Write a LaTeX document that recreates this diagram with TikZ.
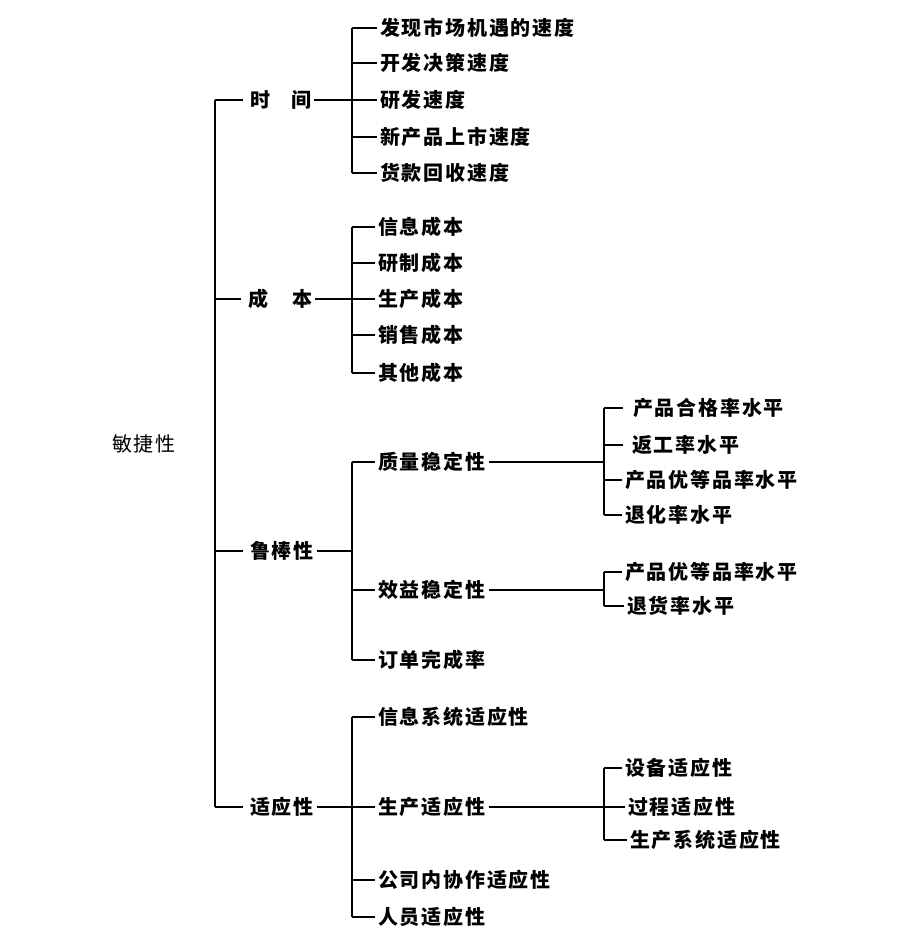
\documentclass[tikz,border=0pt]{standalone}
\usepackage{fontspec}
\newfontfamily\cjk[LetterSpace=9]{Noto Sans CJK SC}
\begin{document}
\begin{tikzpicture}[x=1pt,y=-1pt]
\tikzset{
  lf/.style={anchor=west,inner xsep=3pt,inner ysep=0pt,font=\cjk\bfseries\fontsize{20pt}{23pt}\selectfont},
  rt/.style={anchor=west,inner xsep=3pt,inner ysep=0pt,font=\cjk\fontsize{20pt}{23pt}\selectfont},
  ln/.style={line width=2.3pt}
}
\useasboundingbox (0,0) rectangle (917,952);
\fill[white] (0,0) rectangle (917,952);

% root
\node[rt] (r) at (109,444) {敏捷性};

% level 1
\node[lf] (t1) at (247,100) {时\hspace{21pt}间};
\node[lf] (t2) at (245,299) {成\hspace{24pt}本};
\node[lf] (t3) at (247,551) {鲁棒性};
\node[lf] (t4) at (247,807) {适应性};

\coordinate (tr) at (215,0);
\coordinate (ba) at (352,0);
\coordinate (bb) at (604,0);

\draw[ln] (tr |- t1.west) -- (tr |- t4.west);
\foreach \n in {t1,t2,t3,t4} \draw[ln] (tr |- \n.west) -- ([xshift=-4pt]\n.west);

% time
\node[lf] (a1) at (377,28) {发现市场机遇的速度};
\node[lf] (a2) at (377,63) {开发决策速度};
\node[lf] (a3) at (377,100) {研发速度};
\node[lf] (a4) at (377,137) {新产品上市速度};
\node[lf] (a5) at (377,173) {货款回收速度};
\draw[ln] (t1.east) -- (ba |- t1.east);
\draw[ln] (ba |- a1.west) -- (ba |- a5.west);
\foreach \n in {a1,a2,a3,a4,a5} \draw[ln] (ba |- \n.west) -- (\n.west);

% cost
\node[lf] (c1) at (375,227) {信息成本};
\node[lf] (c2) at (375,263) {研制成本};
\node[lf] (c3) at (375,299) {生产成本};
\node[lf] (c4) at (375,335) {销售成本};
\node[lf] (c5) at (375,373) {其他成本};
\draw[ln] (t2.east) -- (ba |- t2.east);
\draw[ln] (ba |- c1.west) -- (ba |- c5.west);
\foreach \n in {c1,c2,c3,c4,c5} \draw[ln] (ba |- \n.west) -- (\n.west);

% robustness
\node[lf] (r1) at (375,462) {质量稳定性};
\node[lf] (r2) at (375,590) {效益稳定性};
\node[lf] (r3) at (375,660) {订单完成率};
\draw[ln] (t3.east) -- (ba |- t3.east);
\draw[ln] (ba |- r1.west) -- (ba |- r3.west);
\foreach \n in {r1,r2,r3} \draw[ln] (ba |- \n.west) -- (\n.west);

\node[lf] (q1) at (630,408) {产品合格率水平};
\node[lf] (q2) at (629,445) {返工率水平};
\node[lf] (q3) at (622,480) {产品优等品率水平};
\node[lf] (q4) at (622,515) {退化率水平};
\draw[ln] (r1.east) -- (bb |- r1.east);
\draw[ln] (bb |- q1.west) -- (bb |- q4.west);
\draw[ln] (bb |- q1.west) -- ([xshift=-7pt]q1.west);
\draw[ln] (bb |- q2.west) -- ([xshift=-6pt]q2.west);
\foreach \n in {q3,q4} \draw[ln] (bb |- \n.west) -- (\n.west);

\node[lf] (e1) at (622,572) {产品优等品率水平};
\node[lf] (e2) at (624,606) {退货率水平};
\draw[ln] (r2.east) -- (bb |- r2.east);
\draw[ln] (bb |- e1.west) -- (bb |- e2.west);
\foreach \n in {e1,e2} \draw[ln] (bb |- \n.west) -- (\n.west);

% adaptability
\node[lf] (d1) at (375,717) {信息系统适应性};
\node[lf] (d2) at (375,807) {生产适应性};
\node[lf] (d3) at (375,880) {公司内协作适应性};
\node[lf] (d4) at (375,917) {人员适应性};
\draw[ln] (t4.east) -- (ba |- t4.east);
\draw[ln] (ba |- d1.west) -- (ba |- d4.west);
\foreach \n in {d1,d2,d3,d4} \draw[ln] (ba |- \n.west) -- (\n.west);

\node[lf] (p1) at (622,768) {设备适应性};
\node[lf] (p2) at (625,807) {过程适应性};
\node[lf] (p3) at (627,840) {生产系统适应性};
\draw[ln] (d2.east) -- (bb |- d2.east);
\draw[ln] (bb |- p1.west) -- (bb |- p3.west);
\foreach \n in {p1,p2,p3} \draw[ln] (bb |- \n.west) -- (\n.west);
\end{tikzpicture}
\end{document}
